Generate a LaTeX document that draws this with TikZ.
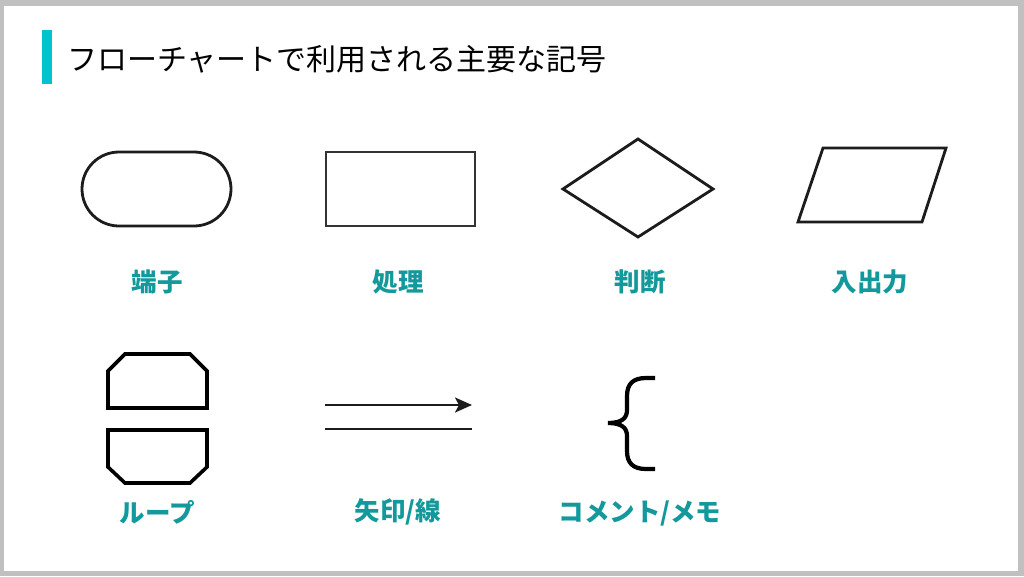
\documentclass[tikz,border=0pt]{standalone}
\usepackage{fontspec}
\setmainfont{Noto Sans CJK JP}
\usetikzlibrary{arrows.meta}

\definecolor{framegray}{HTML}{C0C0C0}
\definecolor{barcyan}{HTML}{00C3CF}
\definecolor{labelteal}{HTML}{13999C}
\definecolor{lineblack}{HTML}{1C1C1C}

\begin{document}
\begin{tikzpicture}[x = 1pt, y = -1pt,
        symbol/.style = {draw = lineblack, line width = 2.8pt},
        loopbox/.style = {draw = black, line width = 3.6pt, line join = miter},
        caption/.style = {text = labelteal, font = \fontsize{25.5}{28}\selectfont\bfseries, inner sep = 0pt}]

        % Frame
        \fill [framegray] (0, 0) rectangle (1024, 576);
        \fill [white] (4, 6) rectangle (1018, 571);
        \useasboundingbox (0, 0) rectangle (1024, 576);

        % Title
        \fill [barcyan] (42, 30) rectangle (52, 84);
        \node [anchor = west, inner sep = 0pt, font = \fontsize{30}{33}\selectfont] (title) at (67, 59) {フローチャートで利用される主要な記号};

        % Symbols
        \node [symbol, minimum width = 149pt, minimum height = 74pt, rounded corners = 37pt] (terminal) at (156.5, 189) {};
        \node [symbol, draw = black!80, minimum width = 149pt, minimum height = 74pt] (process) at (400.5, 189) {};
        \draw [symbol] (563, 189) -- (638, 139) -- (713, 189) -- (638, 237) -- cycle;
        \draw [symbol] (823, 148) -- (946, 148) -- (922, 222) -- (798, 222) -- cycle;

        % Loop
        \draw [loopbox] (108, 408) -- (108, 371) -- (125, 354) -- (190, 354) -- (207, 371) -- (207, 408) -- cycle;
        \draw [loopbox] (108, 430) -- (207, 430) -- (207, 467) -- (190, 483) -- (125, 483) -- (108, 467) -- cycle;

        % Arrow and line
        \coordinate (arrowstart) at (325, 405);
        \coordinate (arrowend) at (472, 405);
        \coordinate (linestart) at (325, 429);
        \coordinate (lineend) at (472, 429);
        \draw [-{Stealth[length = 17pt, width = 15pt, inset = 4pt]}, line width = 2.6pt, lineblack] (arrowstart) -- (arrowend);
        \draw [line width = 2.6pt, lineblack] (linestart) -- (lineend);

        % Brace
        \draw [line width = 4.2pt, black] (655, 378) -- (646, 378) .. controls (633, 378) and (627, 384) .. (627, 396) -- (627, 410)
            .. controls (627, 418) and (622, 423) .. (608, 423)
            .. controls (622, 423) and (627, 428) .. (627, 436) -- (627, 451)
            .. controls (627, 463) and (633, 469) .. (646, 469) -- (655, 469);

        % Labels
        \node [caption] (terminallabel) at (157, 282) {端子};
        \node [caption] (processlabel) at (398, 282) {処理};
        \node [caption] (decisionlabel) at (640, 282) {判断};
        \node [caption] (iolabel) at (870, 282) {入出力};
        \node [caption] (looplabel) at (157, 512) {ループ};
        \node [caption] (arrowlabel) at (398, 512) {矢印/線};
        \node [caption] (commentlabel) at (640, 513) {コメント/メモ};

    \end{tikzpicture}
\end{document}
